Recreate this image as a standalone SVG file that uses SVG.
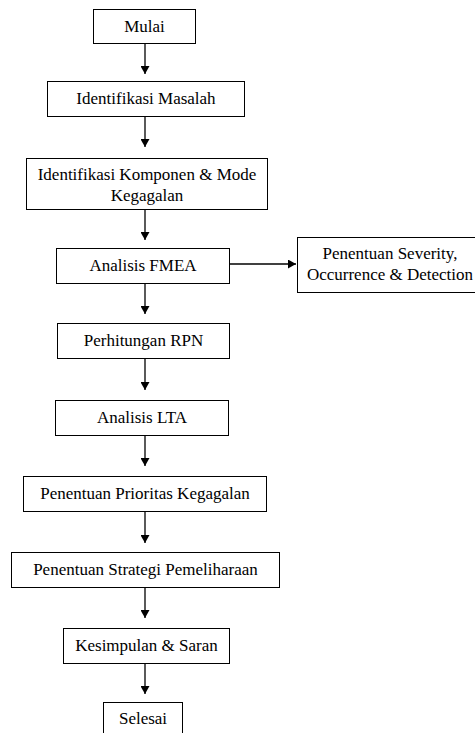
<svg xmlns="http://www.w3.org/2000/svg" width="475" height="733" viewBox="0 0 475 733">
<style>
.box{fill:#fff;stroke:#000;stroke-width:1}
.t{font-family:"Liberation Serif","Times New Roman",serif;font-size:17px;fill:#000;text-anchor:middle}
.c{stroke:#000;stroke-width:1.3;fill:none;marker-end:url(#ah)}
</style>
<defs>
<marker id="ah" markerWidth="8" markerHeight="9" refX="8" refY="4.5" orient="auto" markerUnits="userSpaceOnUse" viewBox="0 0 8 9">
<path d="M0,0 L8,4.5 L0,9 Z" fill="#000"/>
</marker>
</defs>
<rect width="475" height="733" fill="#fff"/>
<g id="connectors">
<line class="c" x1="145" y1="43" x2="145" y2="74"/>
<line class="c" x1="145" y1="117" x2="145" y2="147"/>
<line class="c" x1="145" y1="210" x2="145" y2="240"/>
<line class="c" x1="229" y1="264" x2="296" y2="264"/>
<line class="c" x1="145" y1="283" x2="145" y2="314"/>
<line class="c" x1="145" y1="358" x2="145" y2="390"/>
<line class="c" x1="145" y1="435" x2="145" y2="466"/>
<line class="c" x1="145" y1="511" x2="145" y2="543"/>
<line class="c" x1="145" y1="587" x2="145" y2="618"/>
<line class="c" x1="145" y1="663" x2="145" y2="694"/>
</g>
<g id="mulai"><rect class="box" x="93.5" y="9.5" width="102" height="34"/><text class="t" x="144.5" y="32">Mulai</text></g>
<g id="identifikasi-masalah"><rect class="box" x="47.5" y="81.5" width="197" height="35"/><text class="t" x="146" y="104">Identifikasi Masalah</text></g>
<g id="identifikasi-komponen"><rect class="box" x="26.5" y="158.5" width="241" height="51"/><text class="t" x="147" y="180">Identifikasi Komponen &amp; Mode</text><text class="t" x="147" y="201">Kegagalan</text></g>
<g id="analisis-fmea"><rect class="box" x="56.5" y="248.5" width="173" height="35"/><text class="t" x="143" y="271">Analisis FMEA</text></g>
<g id="penentuan-sod"><rect class="box" x="297.5" y="237.5" width="186" height="55"/><text class="t" x="390" y="259">Penentuan Severity,</text><text class="t" x="390" y="280">Occurrence &amp; Detection</text></g>
<g id="perhitungan-rpn"><rect class="box" x="57.5" y="323.5" width="172" height="35"/><text class="t" x="143.5" y="346">Perhitungan RPN</text></g>
<g id="analisis-lta"><rect class="box" x="55.5" y="400.5" width="173" height="35"/><text class="t" x="142" y="423">Analisis LTA</text></g>
<g id="prioritas"><rect class="box" x="23.5" y="476.5" width="243" height="35"/><text class="t" x="145" y="499">Penentuan Prioritas Kegagalan</text></g>
<g id="strategi"><rect class="box" x="11.5" y="552.5" width="268" height="35"/><text class="t" x="145.5" y="575">Penentuan Strategi Pemeliharaan</text></g>
<g id="kesimpulan"><rect class="box" x="63.5" y="628.5" width="166" height="35"/><text class="t" x="146.5" y="651">Kesimpulan &amp; Saran</text></g>
<g id="selesai"><rect class="box" x="103.5" y="702.5" width="79" height="40"/><text class="t" x="143" y="724">Selesai</text></g>
</svg>
